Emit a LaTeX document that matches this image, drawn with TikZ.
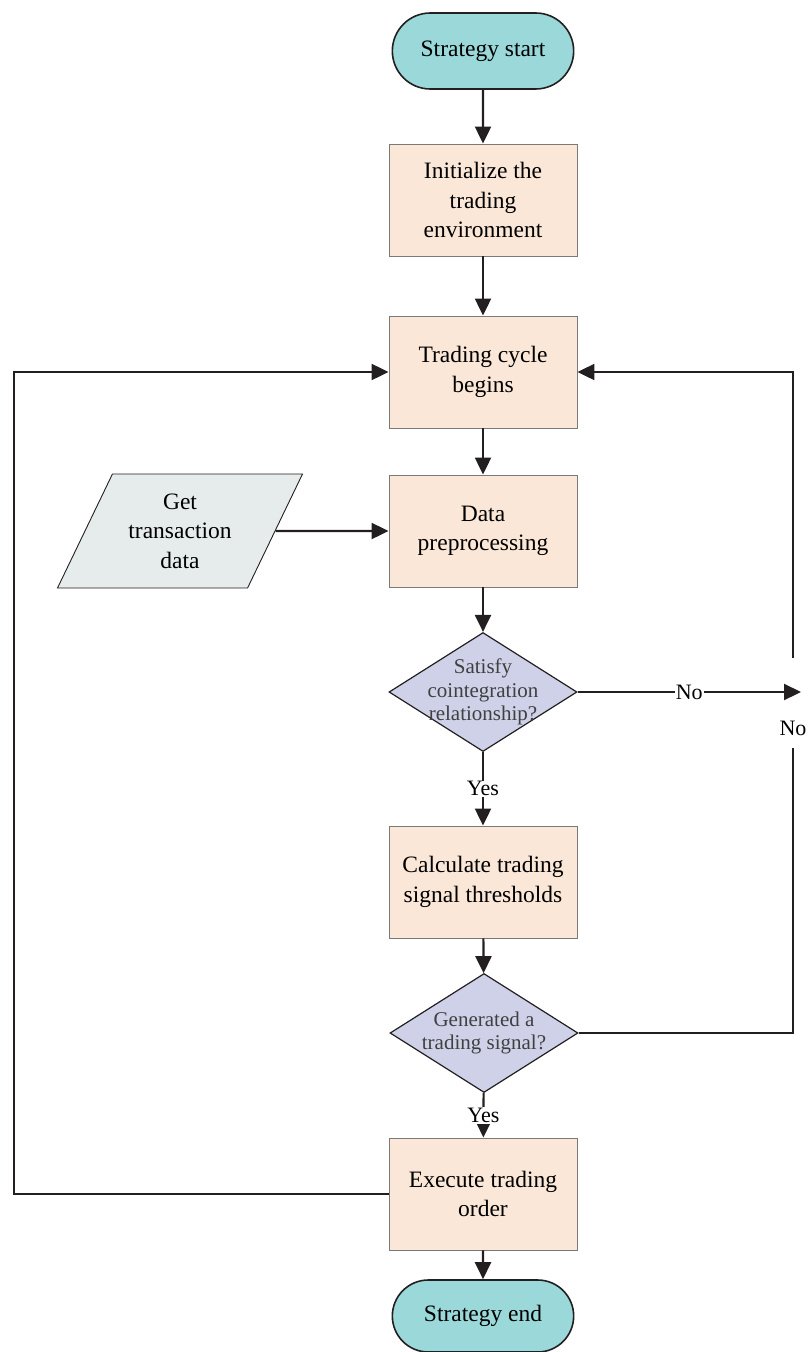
\documentclass[tikz,border=0pt]{standalone}
\usepackage{fontspec}
\setmainfont{Liberation Serif}
\usetikzlibrary{shapes.geometric,shapes.misc,arrows.meta}
\definecolor{termfill}{HTML}{9AD8DA}
\definecolor{boxfill}{HTML}{FAE7D7}
\definecolor{decfill}{HTML}{CED1E8}
\definecolor{iofill}{HTML}{E6ECEB}
\definecolor{edge}{HTML}{231F20}
\definecolor{boxedge}{HTML}{7A7A7A}
\tikzset{
  term/.style={rounded rectangle, draw=edge, line width=1.6pt, fill=termfill, minimum width=188pt, minimum height=76pt, font=\fontsize{23.5}{29.5}\selectfont},
  procbox/.style={rectangle, draw=boxedge, line width=0.9pt, fill=boxfill, minimum width=188pt, minimum height=112pt, align=center, font=\fontsize{23.5}{29.5}\selectfont},
  decbox/.style={diamond, draw=edge, line width=1.2pt, fill=decfill, minimum width=188pt, minimum height=119pt, inner sep=0pt, aspect=1.58},
  dectext/.style={align=center, font=\fontsize{21}{23.5}\selectfont, text=black!75},
  iobox/.style={trapezium, trapezium left angle=56, trapezium right angle=124, trapezium stretches body, draw=edge, line width=0.9pt, fill=iofill, minimum width=245pt, minimum height=114pt, align=center, font=\fontsize{23.5}{29.5}\selectfont},
  conn/.style={draw=edge, line width=2.2pt, -{Triangle[length=17pt,width=16pt]}},
  plain/.style={draw=edge, line width=2.2pt},
  lab/.style={fill=white, inner sep=1pt, font=\fontsize{22}{24}\selectfont}
}
\begin{document}
\begin{tikzpicture}[x=1pt,y=-1pt]
\useasboundingbox (0,0) rectangle (808,1352);
\node[term] (start) at (483,51) {Strategy start};
\node[procbox] (init) at (483,200) {Initialize the\\trading\\environment};
\node[procbox] (cycle) at (483,372) {Trading cycle\\begins};
\node[procbox] (prep) at (483,531) {Data\\preprocessing};
\node[iobox] (get) at (180,531) {Get\\transaction\\data};
\node[decbox] (d1) at (483,692) {};
\node[dectext] (d1t) at (483,692) {Satisfy\\cointegration\\relationship?};
\node[procbox] (calc) at (483,882) {Calculate trading\\signal thresholds};
\node[decbox] (d2) at (484,1033) {};
\node[dectext] (d2t) at (484,1033) {Generated a\\trading signal?};
\node[procbox] (exec) at (483,1194) {Execute trading\\order};
\node[term, minimum height=72pt] (stop) at (483,1316) {Strategy end};

\coordinate (c1) at (793,372);
\coordinate (n1) at (793,658);
\coordinate (n2) at (793,748);
\coordinate (a1) at (801,692);
\coordinate (l1) at (14,1194);

\draw[conn] (start) -- (init);
\draw[conn] (init) -- (cycle);
\draw[conn] (cycle) -- (prep);
\draw[conn] (get.east) -- (prep.west);
\draw[conn] (prep) -- (d1);
\draw[conn] (d1) -- node[lab] (yes1) {Yes} (calc);
\draw[conn] (calc) -- (d2);
\draw[conn] (d2) -- node[lab] (yes2) {Yes} (exec);
\draw[conn] (exec) -- (stop);
\draw[conn] (d1.east) -- node[lab, pos=0.5] (no1) {No} (a1);
\draw[plain] (d2.east) -| (n2);
\node[lab] (no2) at (793,728) {No};
\draw[conn] (n1) -- (c1) -- (cycle.east);
\draw[conn] (exec.west) -- (l1) |- (cycle.west);
\end{tikzpicture}
\end{document}
